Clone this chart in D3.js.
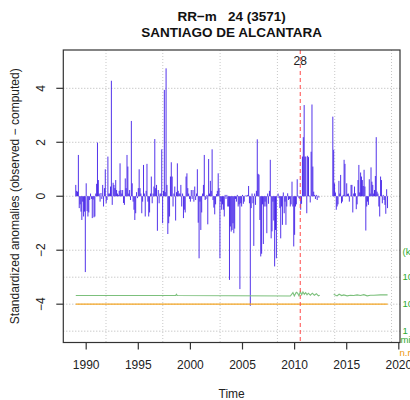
<!DOCTYPE html>
<html><head><meta charset="utf-8">
<script src="https://cdn.jsdelivr.net/npm/d3@7"></script>
<style>
body{margin:0;background:#fff}
svg{display:block;font-family:"Liberation Sans",Arial,Helvetica,sans-serif}
</style>
</head><body>
<svg id="c" width="410" height="400"></svg>
<script>
// ---------------- data ----------------
const titleLine1 = "RR\u2212m   24 (3571)";
const titleLine2 = "SANTIAGO DE ALCANTARA";
const yTitle = "Standardized anomalies (observed \u2212 computed)";
const xTitle = "Time";

const startYear = 1989;               // monthly series, Jan 1989 .. Dec 2018
const anomalyRows = [
  [0.42, 0.2, 0.17, 1.53, -0.44, -0.3, -0.57, -0.88, -0.2, -0.75, -0.57, -2.81],   // 1989
  [0.48, -0.55, -0.75, -0.6, -0.14, 0.1, -0.1, -0.81, -0.12, -0.78, -0.75, 0.1],   // 1990
  [0.46, 1.99, 0.6, 0.1, -0.2, 0.12, -0.1, 0.42, -0.38, 0.3, 1.0, -0.26],          // 1991
  [-0.14, 1.47, 0.1, 0.1, 0.36, 4.28, -0.32, 0.5, 0.42, 0.3, 0.6, 0.23],           // 1992
  [0.1, 0.05, 0.2, 1.22, 0.23, 0.1, 0.23, -0.25, -0.32, 0.66, 0.3, 1.53],          // 1993
  [1.1, 0.1, 0.23, -0.14, 2.79, 0.48, -0.2, -0.5, -0.88, -0.63, 0.15, -0.07],      // 1994
  [0.3, 1.0, 0.3, 0.1, -0.63, -0.2, 1.16, 0.1, -0.75, 0.2, 1.2, -0.2],             // 1995
  [-0.75, -0.6, 0.1, 0.73, -0.26, 0.1, 0.36, 2.12, 0.3, 0.42, -1.28, 0.23],        // 1996
  [-0.26, 0.1, 0.1, 1.74, -1.0, 0.2, 3.94, 0.15, 4.74, 0.42, -1.4, -1.0],          // 1997
  [-0.75, 0.73, 1.26, 0.73, -0.38, 0.1, 0.36, -0.9, 0.15, 1.22, 0.2, 0.1],         // 1998
  [0.1, 0.42, -0.38, 0.1, -0.81, -0.5, -0.6, 0.73, 0.85, 0.3, 0.1, -0.1],          // 1999
  [-0.2, 0.23, -0.1, 0.23, -0.2, 0.36, -0.14, 0.1, 1.0, -0.98, -2.3, -0.2],        // 2000
  [-1.25, -0.6, 0.1, 0.42, 1.53, -0.14, -0.1, 0.05, -1.04, 1.38, 0.1, 0.57],       // 2001
  [0.2, 1.74, -0.14, -0.42, -0.67, -0.3, 0.08, 0.2, 0.85, 0.3, -2.3, -0.2],        // 2002
  [-0.5, -0.3, -0.5, -0.75, 0.05, -0.1, 0.05, -0.38, -0.38, -3.1, -1.12, -1.31],   // 2003
  [-1.25, -1.0, -1.37, -1.2, -0.1, -0.2, 0.05, -0.38, -0.3, -3.44, -0.26, -0.38],  // 2004
  [0.05, -0.28, -0.2, 0.02, 0.03, 0.02, 0.05, 0.38, -0.26, -4.06, -0.44, 0.1],     // 2005
  [-0.26, -1.84, 0.1, -0.32, 0.2, 2.11, 0.83, 0.8, -0.88, -2.23, -2.13, -0.3],     // 2006
  [-1.77, -0.38, -0.2, -0.38, -1.37, 0.1, -0.28, 0.2, 1.35, -1.56, -1.3, -0.2],    // 2007
  [-0.9, -2.6, -1.25, -2.3, 0.02, 0.1, -0.07, -0.44, -1.56, -0.38, -1.06, 0.14],   // 2008
  [-0.63, -0.2, -1.06, -0.38, 0.11, -0.14, -0.1, -0.38, -0.3, 0.54, -0.38, -1.86], // 2009
  [-1.43, -0.38, -0.3, 0.63, 0.02, -0.07, -0.1, -0.5, -0.28, 1.47, 2.19, 3.38],    // 2010
  [1.47, 1.47, -0.63, 1.5, 1.45, 0.02, -0.23, 1.65, 3.4, 1.1, 0.17, 0.05],         // 2011
  [-0.1, 0.05, -0.14, 0.02, -0.05, null, null, null, null, null, null, null],      // 2012
  [null, null, null, null, null, null, null, null, 2.95, 1.72, 0.48, 0.14],        // 2013
  [-0.5, -0.38, -0.3, 0.57, 0.1, 0.79, -0.26, -0.2, 0.05, 1.35, 1.2, 0.02],        // 2014
  [0.48, 0.09, 0.1, -0.2, 0.02, 0.42, 0.42, -0.6, 0.1, 0.36, 0.11, -0.48],         // 2015
  [-0.3, 0.6, 1.16, 0.14, 0.88, 0.73, 0.6, 0.38, 0.98, 0.36, -1.27, -0.38],        // 2016
  [-0.2, -0.32, 0.63, 0.1, 1.07, 0.54, 0.42, 0.1, 0.23, 0.75, 2.19, 0.17],         // 2017
  [0.1, -0.38, -0.75, 0.73, 0.6, -0.26, 0.05, -0.14, -0.32, -0.65, 0.26, -0.44]    // 2018
];

const breakYears = [2010.54];
const breakLabels = ["28"];

// minimum distance to reference stations (km, right log axis)
const distDates = [1989.0, 1998.6, 1998.65, 1998.75, 2009.59, 2009.84, 2009.97, 2010.16, 2010.29,
  2010.42, 2010.55, 2010.68, 2010.80, 2010.93, 2011.06, 2011.19, 2011.32, 2011.51, 2011.70,
  2011.89, 2012.09, 2012.28, 2012.41, 2013.0, 2013.75, 2014.07, 2014.27, 2014.52, 2014.71,
  2015.04, 2015.36, 2015.68, 2016.0, 2016.32, 2016.64, 2016.96, 2017.28, 2017.6, 2018.24, 2018.92];
const distKm = [20.9, 20.9, 23.4, 20.9, 20.0, 26.9, 20.3, 27.7, 25.5,
  20.3, 29.5, 22.1, 28.6, 23.4, 26.9, 22.1, 25.5, 21.5, 25.5,
  21.5, 24.5, 20.3, 21.5, null, 23.4, 20.3, 23.4, 20.9, 22.1,
  20.3, 21.5, 20.9, 22.1, 20.9, 22.6, 20.3, 21.5, 21.5, 22.1, 22.1];
// number of references (right log axis)
const nrefDates = [1989.0, 2018.92];
const nrefVals = [10, 10];

const xTicks = [1990, 1995, 2000, 2005, 2010, 2015, 2020];
const yTicks = [4, 2, 0, -2, -4];
const hGridVals = [4, 2, 0, -2, -3, -4, -5];
const vGridYears = [1991.9, 1997.35, 2002.85, 2008.35, 2013.85, 2019.3];
const rightTicks = [100, 10, 1];
const rightUnit = "(km)";
const rightLegend = ["min.d.", "n.ref"];

// ---------------- drawing ----------------
const svg = d3.select("#c");
svg.append("rect").attr("width", 410).attr("height", 400).attr("fill", "#fff");

const L = 63.3, R = 400, T = 50, B = 342.5;

const series = [];
anomalyRows.forEach((row, i) => row.forEach((v, m) => {
  series.push({ t: startYear + i + m / 12, v: v });
}));
const ext = d3.extent(series, d => d.t);
const pad = (ext[1] - ext[0]) * 0.04;
const x = d3.scaleLinear().domain([ext[0] - pad, ext[1] + pad]).range([L, R]);
const y = d3.scaleLinear().domain([-5.42, 5.42]).range([B, T]);
const yR = d3.scaleLog().domain([1, 100]).range([y(-5), y(-3)]);

const minus = s => String(s).replace("-", "\u2212");

// grid
const grid = svg.append("g").attr("stroke", "#b4b4b4").attr("stroke-dasharray", "1,2").attr("stroke-width", 1);
hGridVals.forEach(v => grid.append("line").attr("x1", L).attr("x2", R).attr("y1", y(v)).attr("y2", y(v)));
vGridYears.forEach(t => grid.append("line").attr("x1", x(t)).attr("x2", x(t)).attr("y1", T).attr("y2", B)
  .attr("stroke", "#c8c8c8"));

// spikes
const spikeG = svg.append("g").attr("stroke", "#3510e6").attr("stroke-opacity", 0.85).attr("stroke-width", 1);
series.filter(d => d.v !== null).forEach(d => {
  spikeG.append("line").attr("x1", x(d.t)).attr("x2", x(d.t)).attr("y1", y(0)).attr("y2", y(d.v));
});

// distance line (green) and n.ref line (orange)
const distPts = distDates.map((t, i) => ({ t, v: distKm[i] }));
svg.append("path").datum(distPts)
  .attr("d", d3.line().defined(d => d.v !== null).x(d => x(d.t)).y(d => yR(d.v)))
  .attr("fill", "none").attr("stroke", "#7cc07c").attr("stroke-width", 1.1);
const nrefPts = nrefDates.map((t, i) => ({ t, v: nrefVals[i] }));
svg.append("path").datum(nrefPts)
  .attr("d", d3.line().x(d => x(d.t)).y(d => yR(d.v)))
  .attr("fill", "none").attr("stroke", "#f5a623").attr("stroke-width", 1.2);

// break line
breakYears.forEach((b, i) => {
  svg.append("line").attr("x1", x(b)).attr("x2", x(b)).attr("y1", T).attr("y2", B)
    .attr("stroke", "#ff4848").attr("stroke-width", 1).attr("stroke-dasharray", "4,3");
  svg.append("text").attr("x", x(b)).attr("y", T + 15).attr("text-anchor", "middle")
    .attr("font-size", 12).attr("fill", "#222").text(breakLabels[i]);
});

// box
svg.append("rect").attr("x", L).attr("y", T).attr("width", R - L).attr("height", B - T)
  .attr("fill", "none").attr("stroke", "#333").attr("stroke-width", 1.2);

// x axis
const xa = svg.append("g");
xTicks.forEach(t => {
  xa.append("line").attr("x1", x(t)).attr("x2", x(t)).attr("y1", B).attr("y2", B + 7)
    .attr("stroke", "#333").attr("stroke-width", 1.2);
  xa.append("text").attr("x", x(t)).attr("y", B + 26).attr("text-anchor", "middle")
    .attr("font-size", 12).attr("fill", "#222").text(t);
});
svg.append("text").attr("x", (L + R) / 2).attr("y", 397.5).attr("text-anchor", "middle")
  .attr("font-size", 12).attr("fill", "#222").text(xTitle);

// y axis
const ya = svg.append("g");
yTicks.forEach(v => {
  ya.append("line").attr("x1", L - 7).attr("x2", L).attr("y1", y(v)).attr("y2", y(v))
    .attr("stroke", "#333").attr("stroke-width", 1.2);
  ya.append("text").attr("transform", `translate(${L - 18},${y(v)}) rotate(-90)`)
    .attr("text-anchor", "middle").attr("font-size", 12).attr("fill", "#222").text(minus(v));
});
svg.append("text").attr("transform", `translate(19,${(T + B) / 2}) rotate(-90)`)
  .attr("text-anchor", "middle").attr("font-size", 12).attr("fill", "#222").text(yTitle);

// right labels (cut by the window edge, as in the reference)
const rg = svg.append("g").attr("font-size", 9.6);
rg.append("text").attr("x", R + 2.5).attr("y", y(-2) + 4.5).attr("fill", "#2faa2f").text(rightUnit);
rightTicks.forEach(k => rg.append("text").attr("x", R + 2.5).attr("y", yR(k) + 3.2)
  .attr("fill", "#2faa2f").text(k));
rg.append("text").attr("x", R + 0.5).attr("y", yR(1) + 12).attr("fill", "#2faa2f").text(rightLegend[0]);
rg.append("text").attr("x", R - 0.5).attr("y", yR(1) + 24.5).attr("fill", "#ee9a10").text(rightLegend[1]);

// titles
svg.append("text").attr("x", (L + R) / 2).attr("y", 21).attr("text-anchor", "middle")
  .attr("font-size", 13.5).attr("font-weight", "bold").attr("fill", "#111")
  .style("white-space", "pre").text(titleLine1);
svg.append("text").attr("x", (L + R) / 2).attr("y", 36.5).attr("text-anchor", "middle")
  .attr("font-size", 13.5).attr("font-weight", "bold").attr("fill", "#111").text(titleLine2);
</script>
</body></html>
